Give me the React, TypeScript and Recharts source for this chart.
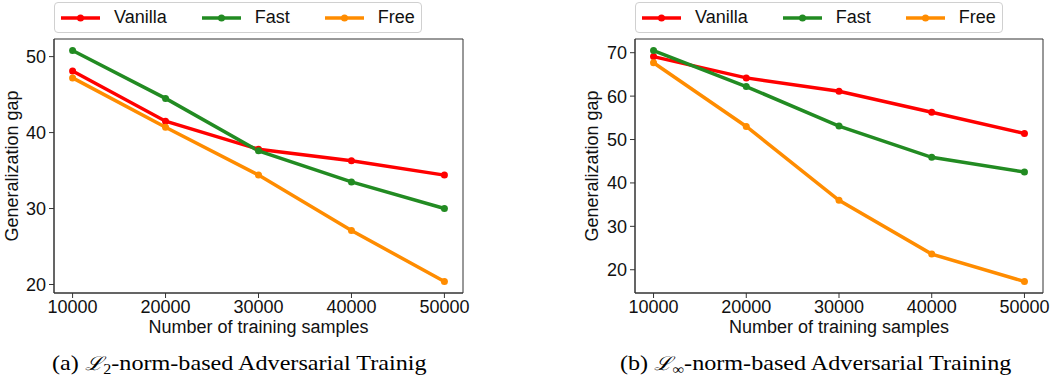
import { LineChart, Line, XAxis, YAxis, ReferenceArea, Legend } from 'recharts'

const samples = [10000, 20000, 30000, 40000, 50000]
const seriesNames = ['Vanilla', 'Fast', 'Free']

// (a) L2-norm
const l2Vanilla = [48.1, 41.5, 37.8, 36.3, 34.4]
const l2Fast = [50.8, 44.5, 37.6, 33.5, 30.0]
const l2Free = [47.2, 40.7, 34.4, 27.1, 20.4]
const l2Ticks = [20, 30, 40, 50]

// (b) Linf-norm
const linfVanilla = [69.1, 64.2, 61.1, 56.3, 51.4]
const linfFast = [70.5, 62.2, 53.1, 45.9, 42.5]
const linfFree = [67.7, 53.0, 36.0, 23.6, 17.3]
const linfTicks = [20, 30, 40, 50, 60, 70]

const COLORS: Record<string, string> = {
  Vanilla: '#ff0000',
  Fast: '#228b22',
  Free: '#ff8c00',
}

const FONT = '"Liberation Sans", Arial, sans-serif'
const FS = 18
const SPINE = '#333'

function toRows(vanilla: number[], fast: number[], free: number[]) {
  return samples.map((n, i) => ({ n, Vanilla: vanilla[i], Fast: fast[i], Free: free[i] }))
}

// matplotlib-style 5% margins
function padDomain(values: number[]): [number, number] {
  const lo = Math.min(...values)
  const hi = Math.max(...values)
  const m = (hi - lo) * 0.05
  return [lo - m, hi + m]
}

function LegendBox({ payload }: any) {
  // keep the plotting order, recharts sorts by name otherwise
  const items = seriesNames
    .map((name) => (payload || []).find((p: any) => p.value === name))
    .filter(Boolean)
  return (
    <div
      style={{
        display: 'flex',
        alignItems: 'center',
        height: 31,
        paddingLeft: 6,
        border: '1px solid #d0d0d0',
        borderRadius: 4,
        background: '#fff',
        fontFamily: FONT,
        fontSize: FS,
        color: '#111',
        boxSizing: 'border-box',
      }}
    >
      {items.map((p: any, i: number) => (
        <div key={p.value} style={{ display: 'flex', alignItems: 'center', marginLeft: i === 0 ? 0 : 35 }}>
          <svg width={39} height={10} style={{ marginRight: 14 }}>
            <line x1={0} y1={5} x2={39} y2={5} stroke={p.color} strokeWidth={3.5} />
            <circle cx={19.5} cy={5} r={3.5} fill={p.color} />
          </svg>
          <span>{p.value}</span>
        </div>
      ))}
    </div>
  )
}

type PanelProps = {
  rows: any[]
  ticks: number[]
  yDomain: [number, number]
  width: number
  yAxisWidth: number
  marginRight: number
  labelOffset: number
}

function Panel({ rows, ticks, yDomain, width, yAxisWidth, marginRight, labelOffset }: PanelProps) {
  const tickStyle = { fontSize: FS, fontFamily: FONT, fill: '#111' }
  return (
    <LineChart width={width} height={340} data={rows} margin={{ top: 39, right: marginRight, bottom: 7, left: 0 }}>
      <XAxis
        dataKey="n"
        type="number"
        domain={[8000, 52000]}
        ticks={samples}
        tick={tickStyle}
        tickSize={5}
        tickMargin={2}
        height={40}
        stroke={SPINE}
        label={{ value: 'Number of training samples', position: 'insideBottom', offset: 0, style: tickStyle }}
      />
      <YAxis
        type="number"
        domain={yDomain}
        ticks={ticks}
        tick={tickStyle}
        tickSize={5}
        tickMargin={3}
        width={yAxisWidth}
        stroke={SPINE}
        label={{
          value: 'Generalization gap',
          angle: -90,
          position: 'insideLeft',
          offset: labelOffset,
          style: { ...tickStyle, textAnchor: 'middle' },
        }}
      />
      <ReferenceArea x1={8000} x2={52000} y1={yDomain[0]} y2={yDomain[1]} fill="none" fillOpacity={0} stroke={SPINE} strokeWidth={1} />
      {seriesNames.map((name) => (
        <Line
          key={name}
          dataKey={name}
          name={name}
          stroke={COLORS[name]}
          strokeWidth={3.5}
          dot={{ r: 3.5, fill: COLORS[name], stroke: COLORS[name], strokeWidth: 0 }}
          isAnimationActive={false}
        />
      ))}
      <Legend
        layout="horizontal"
        align="center"
        verticalAlign="middle"
        content={LegendBox}
        wrapperStyle={{ left: yAxisWidth, top: 2, width: 368, height: 31 }}
      />
    </LineChart>
  )
}

const captionStyle = {
  position: 'absolute' as const,
  top: 353,
  fontFamily: '"Liberation Serif", "Times New Roman", serif',
  fontSize: 21,
  lineHeight: '21px',
  color: '#000',
  whiteSpace: 'nowrap' as const,
  transform: 'scaleX(1.15)',
  transformOrigin: 'left center',
}

const scriptL = { fontFamily: '"DejaVu Serif", serif', fontStyle: 'italic' as const, fontSize: 19 }
const sub = { fontSize: 14, verticalAlign: -4 }

export default function App() {
  const l2Rows = toRows(l2Vanilla, l2Fast, l2Free)
  const linfRows = toRows(linfVanilla, linfFast, linfFree)
  return (
    <div style={{ position: 'absolute', left: 0, top: 0, width: 1053, height: 383, background: '#fff', overflow: 'hidden' }}>
      <div style={{ position: 'absolute', left: 0, top: 0 }}>
        <Panel
          rows={l2Rows}
          ticks={l2Ticks}
          yDomain={padDomain([...l2Vanilla, ...l2Fast, ...l2Free])}
          width={500}
          yAxisWidth={54}
          marginRight={37}
          labelOffset={12}
        />
      </div>
      <div style={{ position: 'absolute', left: 560, top: 0 }}>
        <Panel
          rows={linfRows}
          ticks={linfTicks}
          yDomain={padDomain([...linfVanilla, ...linfFast, ...linfFree])}
          width={493}
          yAxisWidth={75}
          marginRight={10}
          labelOffset={32}
        />
      </div>
      <div style={{ ...captionStyle, left: 52 }}>
        (a) <span style={scriptL}>ℒ</span>
        <span style={sub}>2</span>-norm-based Adversarial Trainig
      </div>
      <div style={{ ...captionStyle, left: 620 }}>
        (b) <span style={scriptL}>ℒ</span>
        <span style={sub}>∞</span>-norm-based Adversarial Training
      </div>
    </div>
  )
}
